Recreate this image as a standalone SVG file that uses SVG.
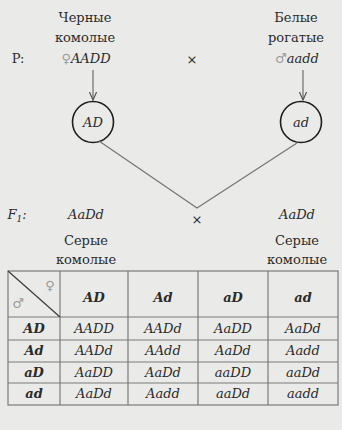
<svg xmlns="http://www.w3.org/2000/svg" width="342" height="430" viewBox="0 0 342 430">
<defs>
<style>
.t{font-family:"DejaVu Serif","Liberation Serif",serif;font-size:13px;fill:#2b2b2b;text-anchor:middle}
.i{font-style:italic}
.b{font-weight:bold}
.sym{fill:#9a9a9a;font-style:normal}
.grid{stroke:#7a7a7a;stroke-width:1.2;fill:none}
.conn{stroke:#777;stroke-width:1.3;fill:none}
.circ{stroke:#1e1e1e;stroke-width:1.6;fill:none}
</style>
<marker id="ah" viewBox="0 0 10 10" refX="9" refY="5" markerWidth="9" markerHeight="9" orient="auto" markerUnits="userSpaceOnUse">
<path d="M0,1 L9,5 L0,9" fill="none" stroke="#555" stroke-width="1.3"/>
</marker>
</defs>
<rect width="342" height="430" fill="#eaeae8"/>

<g id="parent-female">
<text class="t" x="85" y="22">Черные</text>
<text class="t" x="85" y="42">комолые</text>
<text class="t i" x="86" y="63"><tspan class="sym">♀</tspan>AADD</text>
</g>
<g id="label-P"><text class="t" x="18" y="63">P:</text></g>
<g id="cross-P"><text class="t" x="192" y="64">×</text></g>
<g id="parent-male">
<text class="t" x="296" y="22">Белые</text>
<text class="t" x="296" y="42">рогатые</text>
<text class="t i" x="297" y="63"><tspan class="sym">♂</tspan>aadd</text>
</g>

<g id="gamete-AD">
<circle class="circ" cx="93" cy="122" r="20.5"/>
<text class="t i" x="93" y="127">AD</text>
</g>
<g id="gamete-ad">
<circle class="circ" cx="301" cy="122" r="20.5"/>
<text class="t i" x="301" y="127">ad</text>
</g>

<g id="connectors">
<line class="conn" x1="93" y1="70" x2="93" y2="100" marker-end="url(#ah)"/>
<line class="conn" x1="303" y1="70" x2="303" y2="100" marker-end="url(#ah)"/>
<polyline class="conn" points="99,141 197,208 297,143"/>
</g>

<g id="f1">
<text class="t i" x="17" y="219">F<tspan font-size="9" dy="3">1</tspan><tspan dy="-3">:</tspan></text>
<text class="t i" x="86" y="219">AaDd</text>
<text class="t" x="197" y="224">×</text>
<text class="t i" x="297" y="219">AaDd</text>
<text class="t" x="86" y="245">Серые</text>
<text class="t" x="86" y="264">комолые</text>
<text class="t" x="297" y="245">Серые</text>
<text class="t" x="297" y="264">комолые</text>
</g>

<g id="punnett">
<rect class="grid" x="8" y="271" width="330" height="134"/>
<path class="grid" d="M60,271V405M128,271V405M198,271V405M268,271V405M8,317H338M8,340H338M8,362H338M8,383H338"/>
<line x1="8" y1="271" x2="60" y2="317" stroke="#3a3a3a" stroke-width="1.2"/>
<text class="t sym" x="50" y="290" font-size="12">♀</text>
<text class="t sym" x="18" y="308" font-size="12">♂</text>
<text class="t i b" x="94" y="302">AD</text>
<text class="t i b" x="163" y="302">Ad</text>
<text class="t i b" x="233" y="302">aD</text>
<text class="t i b" x="303" y="302">ad</text>

<text class="t i b" x="34" y="333">AD</text>
<text class="t i" x="94" y="333">AADD</text>
<text class="t i" x="163" y="333">AADd</text>
<text class="t i" x="233" y="333">AaDD</text>
<text class="t i" x="303" y="333">AaDd</text>

<text class="t i b" x="34" y="355">Ad</text>
<text class="t i" x="94" y="355">AADd</text>
<text class="t i" x="163" y="355">AAdd</text>
<text class="t i" x="233" y="355">AaDd</text>
<text class="t i" x="303" y="355">Aadd</text>

<text class="t i b" x="34" y="377">aD</text>
<text class="t i" x="94" y="377">AaDD</text>
<text class="t i" x="163" y="377">AaDd</text>
<text class="t i" x="233" y="377">aaDD</text>
<text class="t i" x="303" y="377">aaDd</text>

<text class="t i b" x="34" y="398">ad</text>
<text class="t i" x="94" y="398">AaDd</text>
<text class="t i" x="163" y="398">Aadd</text>
<text class="t i" x="233" y="398">aaDd</text>
<text class="t i" x="303" y="398">aadd</text>
</g>
</svg>
